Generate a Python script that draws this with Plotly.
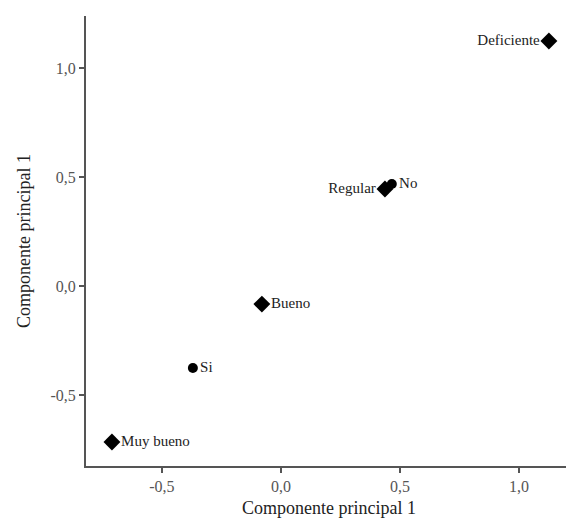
import plotly.graph_objects as go

labels = ["Deficiente", "No", "Regular", "Bueno", "Si", "Muy bueno"]
x_vals = [1.126, 0.466, 0.437, -0.080, -0.370, -0.710]
y_vals = [1.124, 0.468, 0.445, -0.083, -0.376, -0.716]
symbols = ["diamond", "circle", "diamond", "diamond", "circle", "diamond"]
text_pos = ["middle left", "middle right", "middle left", "middle right", "middle right", "middle right"]
tick_vals = [-0.5, 0.0, 0.5, 1.0]
tick_text = ["-0,5", "0,0", "0,5", "1,0"]

fig = go.Figure()
fig.add_trace(go.Scatter(
    x=x_vals, y=y_vals, mode="markers+text", text=labels,
    textposition=text_pos,
    marker=dict(symbol=symbols, color="#000000", opacity=1,
                line=dict(width=0),
                size=[13 if s == "diamond" else 10 for s in symbols]),
    textfont=dict(family="Liberation Serif", size=15, color="#222"),
    cliponaxis=False, showlegend=False,
))

axis_common = dict(
    showgrid=False, zeroline=False, showline=True, linecolor="#555", linewidth=2,
    ticks="outside", ticklen=5, tickwidth=2, tickcolor="#555", automargin=False,
    tickvals=tick_vals, ticktext=tick_text,
    tickfont=dict(family="Liberation Serif", size=16, color="#555"),
)

fig.update_layout(
    width=566, height=510,
    margin=dict(l=78, r=2, t=8, b=52),
    plot_bgcolor="white", paper_bgcolor="white",
    xaxis=dict(range=[-0.819, 1.223], title=dict(text="Componente principal 1", standoff=14,
               font=dict(family="Liberation Serif", size=18, color="#222")), **axis_common),
    yaxis=dict(range=[-0.826, 1.239], title=dict(text="Componente principal 1", standoff=15,
               font=dict(family="Liberation Serif", size=18, color="#222")), **axis_common),
)

fig.write_html("out.html")
